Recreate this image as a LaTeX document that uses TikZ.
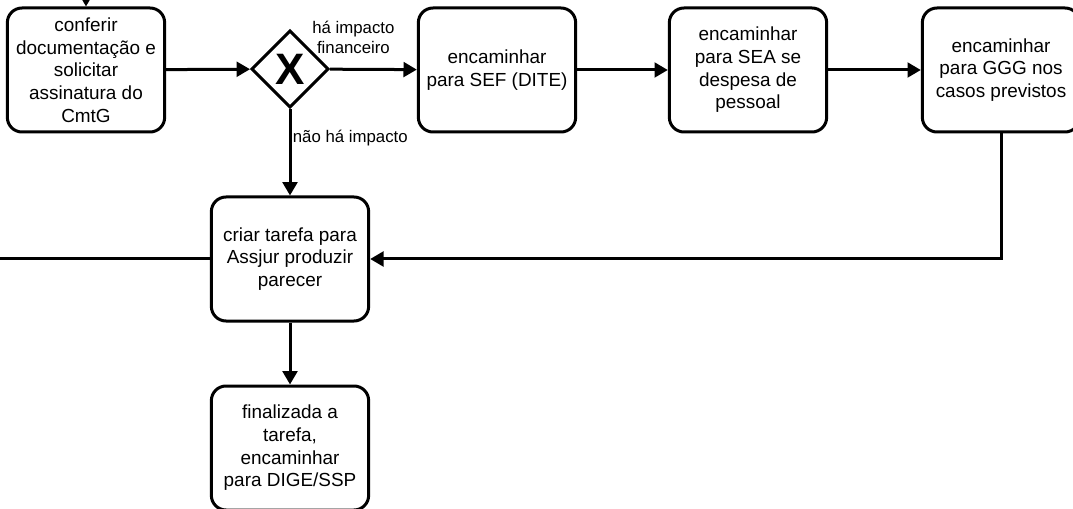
\documentclass[tikz,border=0pt]{standalone}
\usepackage{fontspec}
\setmainfont{Liberation Sans}
\usetikzlibrary{arrows.meta,shapes.geometric}

\begin{document}
\begin{tikzpicture}[x=0.75pt, y=-0.75pt,
    tarefa/.style={draw, line width=2.25pt, rounded corners=11pt,
        minimum width=118pt, minimum height=93pt, align=center,
        font=\fontsize{14.2pt}{17pt}\selectfont},
    gateway/.style={draw, diamond, line width=2.25pt, aspect=1,
        minimum width=58pt, minimum height=58pt, inner sep=0pt,
        font=\fontsize{33pt}{33pt}\selectfont\bfseries},
    fluxo/.style={line width=2.25pt, -{Triangle[length=10pt,width=11pt]}},
    linha/.style={line width=2.25pt},
    rotulo/.style={font=\fontsize{12.6pt}{15pt}\selectfont, align=center}]

    % Área visível
    \useasboundingbox (0,0) rectangle (1073,509);

    % Tarefas da linha de cima
    \node[tarefa] (conferir) at (86,70) {conferir\\documentação e\\solicitar\\assinatura do\\CmtG};
    \node[gateway] (impacto) at (290,69) {X};
    \node[tarefa] (sef) at (497,70) {encaminhar\\para SEF (DITE)};
    \node[tarefa] (sea) at (748,70) {encaminhar\\para SEA se\\despesa de\\pessoal};
    \node[tarefa] (ggg) at (1001,70) {encaminhar\\para GGG nos\\casos previstos};

    % Tarefas de baixo
    \node[tarefa] (parecer) at (290,259) {criar tarefa para\\Assjur produzir\\parecer};
    \node[tarefa] (finalizar) at (290,448) {finalizada a\\tarefa,\\encaminhar\\para DIGE/SSP};

    % Pontas que saem da área
    \coordinate (entrada) at (86,-20);
    \coordinate (saida) at (-20,259);

    % Fluxos
    \draw[fluxo] (entrada) -- (conferir);
    \draw[fluxo] (conferir) -- (impacto);
    \draw[fluxo] (impacto) -- node[rotulo, pos=0.27, above=7pt] {há impacto\\financeiro} (sef);
    \draw[fluxo] (sef) -- (sea);
    \draw[fluxo] (sea) -- (ggg);
    \draw[fluxo] (ggg.south) |- (parecer.east);
    \draw[fluxo] (impacto) -- node[rotulo, pos=0.33, anchor=west, inner sep=1pt] {não há impacto} (parecer);
    \draw[linha] (parecer) -- (saida);
    \draw[fluxo] (parecer) -- (finalizar);
\end{tikzpicture}
\end{document}
